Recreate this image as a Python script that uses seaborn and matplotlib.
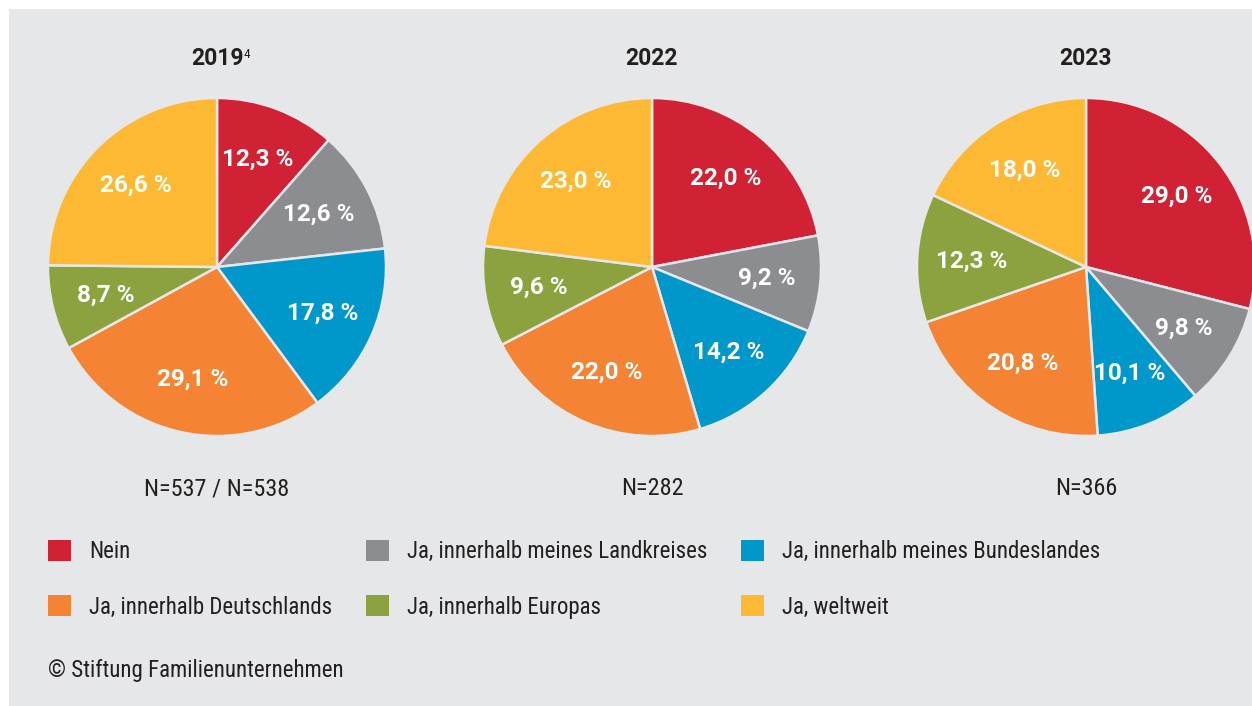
import numpy as np
import matplotlib.pyplot as plt
import seaborn as sns
from matplotlib.patches import Patch, Rectangle

# Daten (Anteile in %)
kategorien = ["Nein", "Ja, innerhalb meines Landkreises", "Ja, innerhalb meines Bundeslandes",
              "Ja, innerhalb Deutschlands", "Ja, innerhalb Europas", "Ja, weltweit"]
werte_2019 = [12.3, 12.6, 17.8, 29.1, 8.7, 26.6]
werte_2022 = [22.0, 9.2, 14.2, 22.0, 9.6, 23.0]
werte_2023 = [29.0, 9.8, 10.1, 20.8, 12.3, 18.0]
jahre = ["2019", "2022", "2023"]
fussnoten = ["4", "", ""]
stichproben = ["N=537 / N=538", "N=282", "N=366"]
farben = ["#D12235", "#8C8D91", "#0098CB", "#F48333", "#8BA23E", "#FDB933"]

sns.set_theme(style="white")
plt.rcParams['font.family'] = ['Roboto Condensed', 'DejaVu Sans']
fett = ['Roboto', 'DejaVu Sans']  # für Titel und Prozentwerte

hintergrund = "#E6E7E9"
textfarbe = "#231F20"
palette = sns.color_palette(farben)

W, H = 1252, 706
fig = plt.figure(figsize=(W / 100, H / 100), dpi=100)
fig.patch.set_facecolor("white")
# grauer Kasten
fig.patches.append(Rectangle((9 / W, 0), 1 - 9 / W, 1 - 9 / H, transform=fig.transFigure,
                             facecolor=hintergrund, edgecolor="none", zorder=-10))

mitten = [217, 652, 1086]
r = 169
cy = 267

for i, werte in enumerate([werte_2019, werte_2022, werte_2023]):
    ax = fig.add_axes([(mitten[i] - r) / W, (H - cy - r) / H, 2 * r / W, 2 * r / H])
    beschriftung = [f"{v:.1f} %".replace(".", ",") for v in werte]
    wedges, texte = ax.pie(werte, labels=beschriftung, colors=palette, startangle=90,
                           counterclock=False, labeldistance=0.68, radius=1,
                           wedgeprops=dict(edgecolor=hintergrund, linewidth=1.8))
    for w in wedges:
        w.set_clip_on(False)
    for t in texte:
        t.set_ha("center")
        t.set_va("center")
        t.set_color("white")
        t.set_fontweight("bold")
        t.set_fontsize(17.5)
        t.set_family(fett)
    ax.set_xlim(-1, 1)
    ax.set_ylim(-1, 1)
    ax.axis("off")
    titel = ax.set_title(jahre[i], fontsize=16.5, fontweight="bold", color=textfarbe, pad=24,
                         family=fett)
    if fussnoten[i]:
        ax.annotate(fussnoten[i], xy=(1, 1), xycoords=titel, xytext=(0.5, -1),
                    textcoords="offset points", ha="left", va="top", fontsize=9.5, color=textfarbe)
    ax.annotate(stichproben[i], xy=(0.5, 0), xycoords="axes fraction", xytext=(0, -38),
                textcoords="offset points", ha="center", va="center", fontsize=17.5, color=textfarbe)

# Legende zeilenweise: Reihenfolge für spaltenweises Füllen anpassen
reihenfolge = [0, 3, 1, 4, 2, 5]
handles = [Patch(facecolor=palette[k], edgecolor="none", label=kategorien[k]) for k in reihenfolge]
fig.legend(handles=handles, loc="upper left", bbox_to_anchor=(48 / W, 1 - 540 / H), ncol=3,
           frameon=False, fontsize=16.5, handlelength=1.0, handleheight=1.0, handletextpad=0.78,
           columnspacing=1.49, labelspacing=1.41, borderpad=0, borderaxespad=0,
           labelcolor=textfarbe)

fig.text(48 / W, 1 - 670 / H, "© Stiftung Familienunternehmen", fontsize=16.5, color=textfarbe,
         ha="left", va="center")

fig.savefig("out.png", dpi=100, facecolor=fig.get_facecolor())
